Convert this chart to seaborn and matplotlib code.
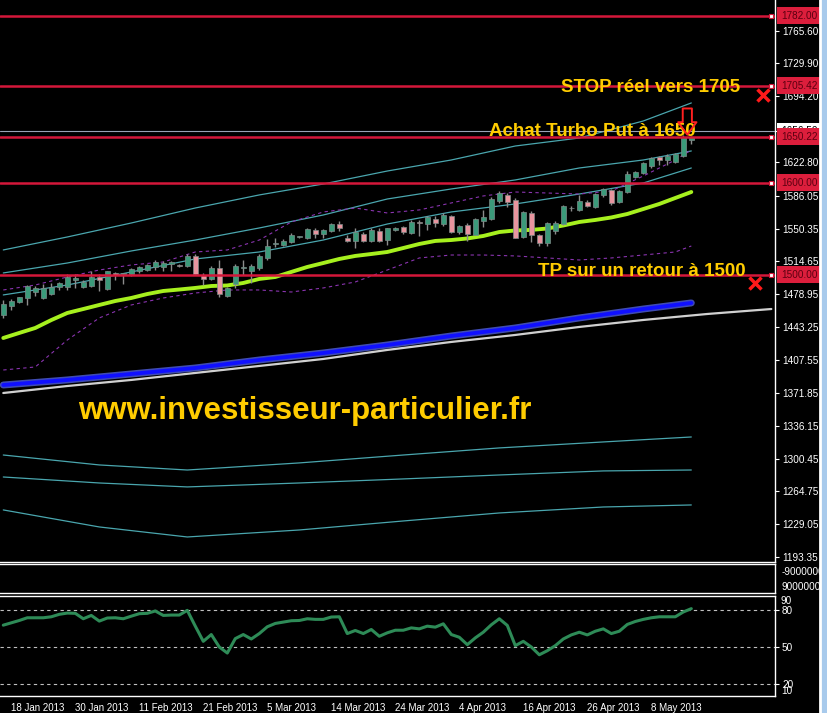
import seaborn as sns
import matplotlib.pyplot as plt
import matplotlib.transforms as mtransforms
import numpy as np
import pandas as pd

# ---- daily candles ----
opens = [1456.5, 1466.6, 1471.0, 1474.7, 1481.9, 1474.7, 1479.3, 1486.6, 1487.3, 1494.6,
         1487.3, 1488.4, 1498.0, 1484.8, 1501.8, 1500.8, 1500.8, 1504.0, 1505.4, 1509.0,
         1509.0, 1511.6, 1510.0, 1510.0, 1521.0, 1500.0, 1495.7, 1508.0, 1477.5, 1490.0,
         1508.0, 1504.3, 1507.3, 1518.0, 1533.4, 1532.6, 1536.2, 1541.0, 1540.5, 1549.0,
         1544.2, 1547.8, 1555.0, 1540.5, 1537.0, 1544.2, 1537.0, 1547.8, 1538.0, 1549.0,
         1551.8, 1546.0, 1557.5, 1555.4, 1560.5, 1555.4, 1564.0, 1547.0, 1554.4, 1543.5,
         1559.0, 1560.5, 1580.8, 1587.0, 1581.5, 1541.6, 1567.7, 1543.5, 1535.0, 1547.8,
         1555.1, 1572.3, 1570.7, 1579.7, 1574.2, 1587.0, 1592.4, 1579.0, 1589.9, 1606.8,
         1610.5, 1618.8, 1628.6, 1625.0, 1623.2, 1629.7, 1646.7]
highs = [1472.8, 1473.6, 1476.5, 1489.0, 1488.0, 1490.0, 1491.0, 1492.8, 1501.0, 1501.0,
         1495.0, 1504.0, 1501.0, 1504.5, 1503.6, 1502.5, 1507.2, 1509.8, 1512.0, 1516.0,
         1515.0, 1515.0, 1511.6, 1522.5, 1522.5, 1501.8, 1509.8, 1515.8, 1487.3, 1511.6,
         1516.7, 1511.6, 1522.5, 1539.0, 1540.0, 1539.0, 1546.0, 1542.5, 1551.0, 1551.0,
         1550.0, 1556.5, 1558.7, 1543.0, 1551.4, 1547.0, 1551.4, 1550.7, 1551.4, 1552.5,
         1553.0, 1560.0, 1560.0, 1563.8, 1563.8, 1567.0, 1565.0, 1554.4, 1556.5, 1562.0,
         1571.0, 1585.0, 1591.7, 1588.8, 1583.7, 1570.0, 1569.0, 1545.0, 1558.0, 1558.7,
         1576.0, 1575.0, 1587.0, 1581.5, 1588.8, 1594.2, 1593.5, 1592.4, 1613.0, 1613.0,
         1623.2, 1628.6, 1629.7, 1631.2, 1632.3, 1652.2, 1651.4]
lows = [1453.3, 1462.0, 1469.0, 1467.4, 1477.0, 1473.6, 1478.0, 1484.0, 1483.7, 1486.0,
        1485.5, 1487.0, 1482.9, 1483.7, 1494.5, 1490.0, 1499.0, 1502.0, 1504.0, 1505.4,
        1504.0, 1504.0, 1508.4, 1509.0, 1500.0, 1489.0, 1494.5, 1475.7, 1475.7, 1486.0,
        1500.0, 1491.0, 1505.4, 1516.0, 1530.0, 1532.0, 1534.4, 1540.0, 1539.0, 1540.5,
        1540.5, 1546.7, 1547.8, 1535.5, 1529.0, 1535.5, 1535.5, 1535.5, 1533.0, 1547.8,
        1545.0, 1544.2, 1542.5, 1549.0, 1552.5, 1553.0, 1546.0, 1544.0, 1537.0, 1543.5,
        1552.5, 1560.0, 1578.6, 1574.0, 1540.0, 1540.5, 1536.0, 1531.4, 1532.0, 1544.6,
        1554.3, 1569.6, 1569.6, 1574.2, 1573.2, 1585.1, 1576.0, 1577.9, 1588.8, 1605.1,
        1609.5, 1616.0, 1619.6, 1619.6, 1621.4, 1628.6, 1642.0]
closes = [1468.2, 1471.7, 1475.8, 1488.4, 1486.2, 1485.5, 1487.3, 1491.6, 1497.5, 1497.0,
          1492.7, 1498.0, 1494.6, 1504.3, 1500.0, 1501.8, 1506.2, 1508.7, 1510.9, 1513.8,
          1512.7, 1513.8, 1509.5, 1521.0, 1500.8, 1495.7, 1508.0, 1479.0, 1485.5, 1510.0,
          1508.3, 1510.0, 1521.0, 1531.8, 1533.6, 1537.3, 1543.5, 1541.2, 1549.7, 1544.2,
          1549.0, 1555.0, 1551.4, 1537.0, 1546.4, 1537.0, 1549.0, 1537.0, 1550.7, 1551.4,
          1547.0, 1558.0, 1556.0, 1562.7, 1556.2, 1565.2, 1547.0, 1553.3, 1544.6, 1560.5,
          1563.4, 1582.3, 1588.8, 1579.7, 1540.0, 1568.8, 1543.5, 1535.0, 1556.5, 1557.0,
          1575.3, 1572.5, 1580.4, 1575.3, 1587.7, 1593.5, 1577.9, 1591.3, 1609.5, 1611.6,
          1621.4, 1627.5, 1625.0, 1629.7, 1631.2, 1650.3, 1650.3]

# ---- indicators ----
ma_idx = list(range(0, 87, 2))
ma_fast = [1431.5, 1437.0, 1442.4, 1451.0, 1458.7, 1463.0, 1467.4, 1471.7, 1475.0, 1479.3,
           1482.6, 1484.2, 1485.9, 1488.0, 1488.6, 1491.3, 1495.7, 1497.8, 1503.3, 1508.7,
           1513.0, 1517.4, 1520.7, 1522.8, 1525.0, 1529.3, 1533.7, 1537.0, 1538.0, 1539.7,
           1542.4, 1546.7, 1548.4, 1549.0, 1550.5, 1553.8, 1557.6, 1559.8, 1562.5, 1566.3,
           1571.7, 1577.2, 1583.7, 1590.2]

band_idx = [0, 8, 16, 24, 32, 40, 48, 56, 64, 72, 80, 86]
ma_slow = [1380.4, 1385.9, 1392.4, 1398.9, 1407.6, 1415.2, 1423.9, 1433.7, 1442.4, 1453.3, 1463.0, 1469.6]
chan_upper = [1527.2, 1541.3, 1556.5, 1572.8, 1587.0, 1598.9, 1613.0, 1625.0, 1640.2, 1648.9, 1667.4, 1687.0]
chan_mid = [1502.2, 1513.0, 1526.1, 1538.0, 1551.1, 1565.2, 1582.6, 1593.5, 1603.3, 1616.3, 1625.0, 1634.8]
chan_lower = [1478.3, 1489.1, 1503.3, 1517.4, 1525.0, 1538.0, 1555.4, 1568.5, 1577.2, 1588.0, 1600.0, 1616.3]

shift_idx = list(range(0, 97, 8))
ma_shifted = [1371.7, 1379.3, 1385.9, 1393.5, 1401.1, 1408.7, 1418.5, 1427.2, 1434.8, 1443.5,
              1451.1, 1457.6, 1463.0]

bb_idx = list(range(0, 85, 4)) + [86]
bb_upper = [1483.7, 1489.1, 1497.8, 1505.4, 1510.9, 1514.1, 1525.0, 1527.2, 1538.0, 1557.6,
            1568.5, 1572.8, 1567.4, 1570.7, 1578.3, 1585.9, 1590.2, 1589.1, 1588.0, 1591.3,
            1607.6, 1625.0, 1635.9]
bb_lower = [1396.7, 1400.0, 1429.3, 1453.3, 1467.4, 1475.0, 1480.4, 1483.7, 1483.7, 1481.5,
            1485.9, 1492.4, 1505.4, 1518.5, 1521.7, 1521.7, 1520.7, 1518.5, 1516.3, 1518.5,
            1521.7, 1525.0, 1531.5]

low_idx = [0, 12, 23, 37, 50, 62, 75, 86]
low_band1 = [1304.3, 1293.5, 1288.0, 1295.7, 1304.3, 1312.0, 1318.5, 1323.9]
low_band2 = [1280.4, 1273.9, 1269.6, 1273.9, 1278.3, 1282.6, 1287.0, 1288.0]
low_band3 = [1244.6, 1226.1, 1215.2, 1222.8, 1232.6, 1241.3, 1247.8, 1250.0]

rsi = [67.7, 69.6, 71.5, 73.7, 73.7, 73.7, 74.5, 76.5, 77.5, 77.3,
       72.9, 75.6, 71.0, 73.5, 73.7, 72.9, 75.0, 77.0, 77.3, 79.2,
       75.6, 75.9, 75.9, 79.7, 66.9, 54.6, 60.1, 50.0, 45.1, 56.8,
       60.1, 56.5, 60.9, 66.4, 69.1, 70.2, 71.3, 71.5, 72.9, 72.4,
       72.4, 74.3, 74.5, 60.9, 63.4, 60.9, 64.2, 58.7, 61.5, 63.6,
       63.6, 65.5, 64.7, 66.9, 66.1, 68.8, 60.1, 57.9, 51.9, 57.4,
       62.0, 68.0, 72.9, 67.5, 51.1, 54.6, 50.0, 43.7, 47.0, 51.1,
       56.5, 59.8, 62.0, 59.8, 62.8, 64.7, 60.9, 62.8, 68.3, 70.7,
       72.4, 73.7, 74.5, 74.5, 74.5, 78.4, 81.1]

levels = [1782.00, 1705.42, 1650.22, 1600.00, 1500.00]
last_price = 1656.50
price_ticks = [1765.60, 1729.90, 1694.20, 1656.50, 1622.80, 1586.05, 1550.35, 1514.65,
               1478.95, 1443.25, 1407.55, 1371.85, 1336.15, 1300.45, 1264.75, 1229.05, 1193.35]
date_idx = [1, 9, 17, 25, 33, 41, 49, 57, 65, 73, 81]
date_labels = ["18 Jan 2013", "30 Jan 2013", "11 Feb 2013", "21 Feb 2013", "5 Mar 2013",
               "14 Mar 2013", "24 Mar 2013", "4 Apr 2013", "16 Apr 2013", "26 Apr 2013",
               "8 May 2013"]
cross_marks = [(95, 1695.7), (94, 1491.3)]

# ---- style ----
sns.set_style("dark", {"axes.facecolor": "black", "figure.facecolor": "black", "axes.grid": False})
plt.rcParams['font.family'] = ['Liberation Sans', 'DejaVu Sans']

W, H = 828, 713
fig = plt.figure(figsize=(W / 100, H / 100), dpi=100)
fig.patch.set_facecolor('black')
ax = fig.add_axes([0, 151 / H, 775 / W, 562 / H])
ax_vol = fig.add_axes([0, 120 / H, 775 / W, 29 / H])
ax_rsi = fig.add_axes([0, 17 / H, 775 / W, 100 / H])

XMIN, XMAX = -0.41, 96.46
LBL = 7.2

# channel / bands
teal = '#4aa6ae'
for vals in (chan_upper, chan_mid, chan_lower):
    sns.lineplot(x=band_idx, y=vals, ax=ax, color=teal, linewidth=0.9, zorder=2)
for vals in (low_band1, low_band2, low_band3):
    sns.lineplot(x=low_idx, y=vals, ax=ax, color=teal, linewidth=0.9, zorder=2)
for vals in (bb_upper, bb_lower):
    sns.lineplot(x=bb_idx, y=vals, ax=ax, color='#8a34b0', linewidth=0.8,
                 linestyle=(0, (3, 3)), zorder=2)

sns.lineplot(x=shift_idx, y=ma_shifted, ax=ax, color='#d0d0d0', linewidth=1.6, zorder=2)
sns.lineplot(x=band_idx, y=ma_slow, ax=ax, color='#5a6cff', linewidth=5, alpha=0.7, zorder=3)
sns.lineplot(x=band_idx, y=ma_slow, ax=ax, color='#1010ff', linewidth=2.8, zorder=3)
sns.lineplot(x=ma_idx, y=ma_fast, ax=ax, color='#a6f01e', linewidth=2.8, zorder=3)

# candles
df = pd.DataFrame({'bar': np.arange(len(closes)), 'open': opens, 'high': highs,
                   'low': lows, 'close': closes})
up = df['close'] >= df['open']
ax.vlines(df['bar'], df['low'], df['high'], color='#8c8c8c', linewidth=1, zorder=4)
body_lo = df[['open', 'close']].min(axis=1)
body_h = (df['close'] - df['open']).abs().clip(lower=0.9)
ax.bar(df['bar'], body_h, bottom=body_lo, width=0.64,
       color=np.where(up, '#3b9a7a', '#e8959f'), edgecolor='#7d8a88', linewidth=0.5, zorder=5)

# horizontal levels
red = '#d4173a'
ax.axhline(last_price, color='#9aa3b5', linewidth=0.8, zorder=5)
for lv in levels:
    ax.axhline(lv, color=red, linewidth=1.8, zorder=6)
ax.plot([95.9] * len(levels), levels, 's', ms=3.2, mfc='white', mec=red, mew=0.8, zorder=7,
        clip_on=False)

trans = mtransforms.blended_transform_factory(ax.transAxes, ax.transData)
ax.text(1.0077, last_price, f'{last_price:.2f}', transform=trans, ha='left', va='center',
        fontsize=LBL, color='black', zorder=8, clip_on=False,
        bbox=dict(boxstyle='square,pad=0.35', fc='white', ec='none'))
for lv in levels:
    ax.text(1.0077, lv, f'{lv:.2f}', transform=trans, ha='left', va='center', fontsize=LBL,
            color='#5c0010', zorder=9, clip_on=False,
            bbox=dict(boxstyle='square,pad=0.35', fc='#dc1e3c', ec='none'))

# annotations
gold = '#ffcc00'
ax.text(92.1, 1703.3, 'STOP réel vers 1705', ha='right', va='center', fontsize=13.5,
        fontweight='bold', color=gold, zorder=9)
ax.text(60.7, 1656.5, 'Achat Turbo Put à 1650', ha='left', va='center', fontsize=13.5,
        fontweight='bold', color=gold, zorder=9)
ax.text(66.8, 1504.3, 'TP sur un retour à 1500', ha='left', va='center', fontsize=13.5,
        fontweight='bold', color=gold, zorder=9)
ax.text(9.3, 1352.2, 'www.investisseur-particulier.fr', ha='left', va='center', fontsize=22.5,
        fontweight='bold', color=gold, zorder=9)
ax.plot([c[0] for c in cross_marks], [c[1] for c in cross_marks], 'x', color='#ff1a1a',
        ms=8, mew=2.5, zorder=10)
ax.annotate('', xy=(85.5, 1652.5), xytext=(85.5, 1681.0), zorder=10,
            arrowprops=dict(arrowstyle='simple,head_length=0.75,head_width=1.1,tail_width=0.55',
                            fc='none', ec='#ff2020', lw=1.4, shrinkA=0, shrinkB=0,
                            mutation_scale=12))

ax.set_xlim(XMIN, XMAX)
ax.set_ylim(1188.0, 1798.9)
ax.yaxis.tick_right()
ax.set_yticks(price_ticks)
ax.set_yticklabels([f'{v:.2f}' for v in price_ticks])
ax.set_xticks([])
ax.tick_params(axis='y', colors='white', labelsize=LBL, length=3, width=0.8, pad=2)

# empty middle panel
ax_vol.set_xlim(XMIN, XMAX)
ax_vol.set_ylim(0, 1)
ax_vol.yaxis.tick_right()
ax_vol.set_yticks([0.24, 0.76])
ax_vol.set_yticklabels(['90000000', '-9000000'])
ax_vol.set_xticks([])
ax_vol.tick_params(axis='y', colors='white', labelsize=LBL, length=0, pad=5)

# RSI panel
sns.lineplot(x=df['bar'], y=rsi, ax=ax_rsi, color='#2e8b57', linewidth=2.2, zorder=3)
for lv in (20, 50, 80):
    ax_rsi.axhline(lv, color='#c0c0c0', linewidth=0.8, linestyle=(0, (3, 3)), zorder=2)
ax_rsi.set_xlim(XMIN, XMAX)
ax_rsi.set_ylim(10.27, 91.35)
ax_rsi.yaxis.tick_right()
ax_rsi.set_yticks([20, 50, 80])
ax_rsi.set_yticklabels(['20', '50', '80'])
ax_rsi.tick_params(axis='y', colors='white', labelsize=LBL, length=3, width=0.8, pad=2)
rtrans = mtransforms.blended_transform_factory(ax_rsi.transAxes, ax_rsi.transData)
ax_rsi.text(1.0077, 87.2, '90', transform=rtrans, ha='left', va='center', fontsize=LBL,
            color='white')
ax_rsi.text(1.0077, 14.6, '10', transform=rtrans, ha='left', va='center', fontsize=LBL,
            color='white')
ax_rsi.set_xticks(date_idx)
ax_rsi.set_xticklabels(date_labels, ha='left')
ax_rsi.tick_params(axis='x', colors='white', labelsize=7, length=4, width=0.8, pad=1)

for a in (ax, ax_vol, ax_rsi):
    a.grid(False)
    a.set_facecolor('black')
    a.set_xlabel('')
    a.set_ylabel('')
    for name, s in a.spines.items():
        s.set_color('white')
        s.set_linewidth(1)
    a.spines['left'].set_visible(False)
ax.spines['top'].set_visible(False)

# window scrollbar strip on the right
strip = fig.add_axes([820 / W, 0, 8 / W, 1])
strip.set_facecolor('#a8caec')
strip.set_xticks([])
strip.set_yticks([])
for name, s in strip.spines.items():
    s.set_visible(name == 'left')
strip.spines['left'].set_color('white')
strip.spines['left'].set_linewidth(2)
strip.set_zorder(20)

fig.savefig('out.png', dpi=100, facecolor='black')
